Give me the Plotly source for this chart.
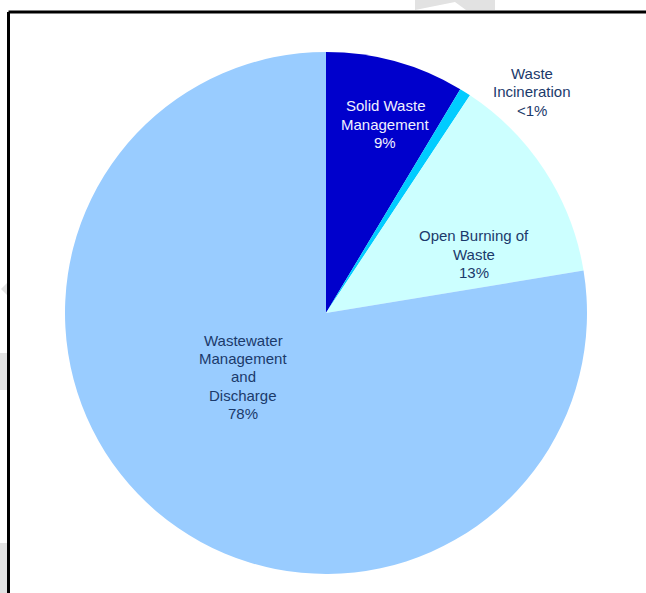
import plotly.graph_objects as go

# Waste sector emissions by source category (share of total, %)
categories = ["Solid Waste Management", "Waste Incineration",
              "Open Burning of Waste", "Wastewater Management and Discharge"]
shares = [8.6, 0.7, 13.1, 77.6]
share_labels = ["9%", "<1%", "13%", "78%"]
label_lines = [["Solid Waste", "Management"], ["Waste", "Incineration"],
               ["Open Burning of", "Waste"], ["Wastewater", "Management", "and", "Discharge"]]
colors = ["#0000CC", "#00CCFF", "#CCFFFF", "#99CCFF"]

W, H = 646, 593
cx, cy, R = 326, 313, 261

fig = go.Figure(go.Pie(
    labels=categories,
    values=shares,
    sort=False,
    direction="clockwise",
    rotation=0,
    marker=dict(colors=colors, line=dict(width=0)),
    textinfo="none",
    hoverinfo="label+percent",
    showlegend=False,
    domain=dict(x=[(cx - R) / W, (cx + R) / W], y=[1 - (cy + R) / H, 1 - (cy - R) / H]),
))

# label anchor points (pixels) and text colour per category
label_pos = [(385, 124), (532, 92), (474, 254), (243, 377)]
label_color = ["#F0F0FF", "#1B3A6B", "#1B3A6B", "#1B3A6B"]
line_step = 18.3

annotations = []
for lines, pct, (px, py), col in zip(label_lines, share_labels, label_pos, label_color):
    rows = lines + [pct]
    top = py - line_step * (len(rows) - 1) / 2
    for i, row in enumerate(rows):
        annotations.append(dict(
            x=px / W, y=1 - (top + i * line_step) / H, xref="paper", yref="paper",
            text=row, showarrow=False,
            font=dict(family="Liberation Sans, Arial", size=15, color=col),
            xanchor="center", yanchor="middle",
        ))

shapes = [
    # faint hatched backdrop pieces peeking around the frame
    dict(type="path", xref="paper", yref="paper", layer="below",
         path="M {} {} L {} {} L {} {} L {} {} L {} {} L {} {} Z".format(
             415 / W, 1 - 10 / H, 415 / W, 1.0, 495 / W, 1.0, 495 / W, 1 - 10 / H,
             466 / W, 1 - 10 / H, 455 / W, 1.0 - 2 / H),
         fillcolor="#E2E2E2", line=dict(width=0)),
    dict(type="rect", xref="paper", yref="paper", layer="below",
         x0=0, x1=8 / W, y0=1 - 390 / H, y1=1 - 353 / H, fillcolor="#E2E2E2", line=dict(width=0)),
    dict(type="rect", xref="paper", yref="paper", layer="below",
         x0=0, x1=8 / W, y0=0, y1=1 - 543 / H, fillcolor="#E2E2E2", line=dict(width=0)),
    dict(type="path", xref="paper", yref="paper", layer="below",
         path="M {} {} L {} {} L {} {} Z".format(8 / W, 1 - 282 / H, 1 / W, 1 - 289 / H, 8 / W, 1 - 296 / H),
         fillcolor="#E2E2E2", line=dict(width=0)),
    # frame: top and left edges
    dict(type="line", xref="paper", yref="paper", x0=8.5 / W, x1=1.0, y0=1 - 12 / H, y1=1 - 12 / H,
         line=dict(color="black", width=3)),
    dict(type="line", xref="paper", yref="paper", x0=8.5 / W, x1=8.5 / W, y0=0, y1=1 - 12 / H,
         line=dict(color="black", width=3)),
]

fig.update_layout(
    width=W, height=H,
    margin=dict(l=0, r=0, t=0, b=0),
    paper_bgcolor="white", plot_bgcolor="white",
    annotations=annotations, shapes=shapes,
)

fig.write_html("out.html")
